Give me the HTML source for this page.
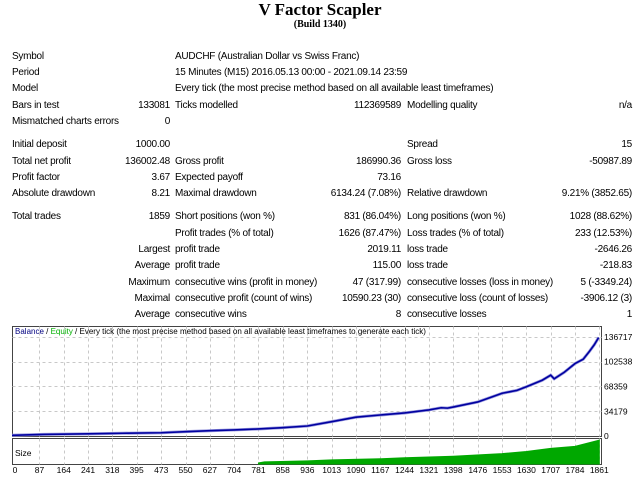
<!DOCTYPE html>
<html><head><meta charset="utf-8">
<style>
body{margin:0;width:640px;height:480px;background:#fff;position:relative;overflow:hidden;font-family:"Liberation Sans",sans-serif;}
.t{position:absolute;font-size:10px;letter-spacing:-0.25px;color:#000;white-space:nowrap;line-height:12px;}
.r{text-align:right;}
#title{position:absolute;left:0;width:640px;top:0;text-align:center;font:bold 17px "Liberation Serif",serif;}
#build{position:absolute;left:0;width:640px;top:19px;text-align:center;font:bold 10px "Liberation Serif",serif;}
</style></head><body>
<div id="title">V Factor Scapler</div>
<div id="build">(Build 1340)</div>
<div id="stats"></div>
<svg id="chart" width="640" height="480" style="position:absolute;left:0;top:0"></svg>
<script>
const rows=[
[57,"Symbol","","AUDCHF (Australian Dollar vs Swiss Franc)","","",""],
[73,"Period","","15 Minutes (M15) 2016.05.13 00:00 - 2021.09.14 23:59","","",""],
[89,"Model","","Every tick (the most precise method based on all available least timeframes)","","",""],
[106,"Bars in test","133081","Ticks modelled","112369589","Modelling quality","n/a"],
[122,"Mismatched charts errors","0","","","",""],
[145,"Initial deposit","1000.00","","","Spread","15"],
[162,"Total net profit","136002.48","Gross profit","186990.36","Gross loss","-50987.89"],
[178,"Profit factor","3.67","Expected payoff","73.16","",""],
[194,"Absolute drawdown","8.21","Maximal drawdown","6134.24 (7.08%)","Relative drawdown","9.21% (3852.65)"],
[217,"Total trades","1859","Short positions (won %)","831 (86.04%)","Long positions (won %)","1028 (88.62%)"],
[234,"","","Profit trades (% of total)","1626 (87.47%)","Loss trades (% of total)","233 (12.53%)"],
[250,"","Largest","profit trade","2019.11","loss trade","-2646.26"],
[266,"","Average","profit trade","115.00","loss trade","-218.83"],
[283,"","Maximum","consecutive wins (profit in money)","47 (317.99)","consecutive losses (loss in money)","5 (-3349.24)"],
[299,"","Maximal","consecutive profit (count of wins)","10590.23 (30)","consecutive loss (count of losses)","-3906.12 (3)"],
[315,"","Average","consecutive wins","8","consecutive losses","1"]
];
const st=document.getElementById('stats');
function txt(x,y,s,right,name){
  if(!s)return;
  const d=document.createElement('div');
  d.className='t'+(right?' r':'');
  
  
  d.textContent=s;
  if(right){d.style.right=(640-x)+'px';}else{d.style.left=x+'px';}
  d.style.top=(y-6)+'px';
  st.appendChild(d);
}
rows.forEach(r=>{
  txt(12,r[0],r[1],false,'stat-label');
  txt(170,r[0],r[2],true,'stat-value');
  txt(175,r[0],r[3],false,'stat-label');
  txt(401,r[0],r[4],true,'stat-value');
  txt(407,r[0],r[5],false,'stat-label');
  txt(632,r[0],r[6],true,'stat-value');
});
</script>
<script>
const tradeIdx=[0,100,241,350,473,550,627,704,781,858,936,1013,1090,1167,1244,1321,1360,1380,1398,1476,1553,1600,1630,1680,1707,1718,1750,1784,1810,1830,1845,1859];
const balance=[1000,2200,3000,3800,4500,6000,7300,8400,9700,11500,13800,19800,26000,29000,31800,36000,39000,38500,40000,47000,59000,63000,68000,77000,84000,79000,88000,100000,106000,117000,126000,136002];
const sizeIdx=[781,800,936,1013,1167,1244,1398,1553,1630,1707,1784,1861];
const sizeVal=[0.1,0.2,0.3,0.4,0.5,0.6,0.75,1.0,1.2,1.5,1.7,2.3];
const xTicks=[0,87,164,241,318,395,473,550,627,704,781,858,936,1013,1090,1167,1244,1321,1398,1476,1553,1630,1707,1784,1861];
const yTicks=[0,34179,68359,102538,136717];
const NS='http://www.w3.org/2000/svg';
const svg=document.getElementById('chart');
const L=12.5,R=601.5,T=326.5,B=436.5,ST=437.5,SB=464.5;
const sx=t=>12+t*(24.3/77);
const sy=v=>436-v/136717*99;
const ssy=v=>464-v/2.6*27;
function el(tag,attrs,name){const e=document.createElementNS(NS,tag);for(const k in attrs)e.setAttribute(k,attrs[k]);svg.appendChild(e);return e;}
el('rect',{x:L,y:T,width:R-L,height:B-T,fill:'#fff',stroke:'#444','stroke-width':1},'main-plot-frame');
el('rect',{x:L,y:ST+1,width:R-L,height:SB-ST-1,fill:'#fff',stroke:'#444','stroke-width':1},'size-plot-frame');
xTicks.forEach(t=>{if(t===0)return;const x=Math.round(sx(t))+0.5;
  el('line',{x1:x,y1:T,x2:x,y2:B,stroke:'#c8c8c8','stroke-dasharray':'3,3'},'x-grid-line');
  el('line',{x1:x,y1:ST+1,x2:x,y2:SB,stroke:'#c8c8c8','stroke-dasharray':'3,3'},'x-grid-line');});
yTicks.forEach(v=>{if(v===0)return;const y=Math.round(sy(v))+0.5;
  el('line',{x1:L,y1:y,x2:R,y2:y,stroke:'#c8c8c8','stroke-dasharray':'3,3'},'y-grid-line');});
let d='M'+sx(sizeIdx[0])+','+464;
sizeIdx.forEach((t,i)=>{d+=' L'+sx(t)+','+ssy(sizeVal[i]);});
d+=' L'+sx(sizeIdx[sizeIdx.length-1])+','+464+' Z';
el('path',{d:d,fill:'#00a800',stroke:'#00a800'},'size-area');
const pts=tradeIdx.map((t,i)=>sx(t)+','+sy(balance[i])).join(' ');
el('polyline',{points:pts,fill:'none',stroke:'#9999dd','stroke-width':3},'equity-line');
el('polyline',{points:pts,fill:'none',stroke:'#0000a0','stroke-width':1.6},'balance-line');
function label(x,y,s,anchor,name,fill){const e=el('text',{x:x,y:y,'font-size':'8.5','font-family':'Liberation Sans, sans-serif','text-anchor':anchor,fill:fill||'#000'},name);e.textContent=s;return e;}
xTicks.forEach(t=>label(sx(t)+(t===0?3:0),473,String(t),'middle','x-tick-label'));
yTicks.forEach(v=>label(604,sy(v)+3,String(v),'start','y-tick-label'));
label(15,456,'Size','start','size-panel-label');
const lg=el('text',{x:15,y:334,'font-size':'8','font-family':'Liberation Sans, sans-serif'},'chart-legend');
[['Balance','#000080'],[' / ','#000'],['Equity','#00b000'],[' / Every tick (the most precise method based on all available least timeframes to generate each tick)','#000']].forEach(p=>{const s=document.createElementNS(NS,'tspan');s.setAttribute('fill',p[1]);s.textContent=p[0];lg.appendChild(s);});
</script>
</body></html>
